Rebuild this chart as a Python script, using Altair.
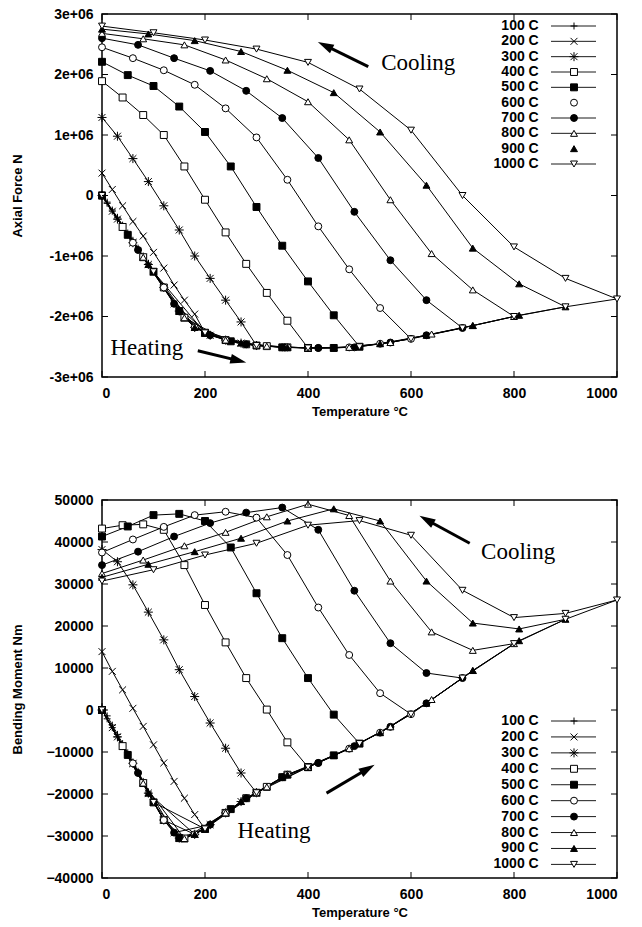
import altair as alt
import pandas as pd

SERIES = ["100 C", "200 C", "300 C", "400 C", "500 C", "600 C", "700 C", "800 C", "900 C", "1000 C"]
T_MAX = [100, 200, 300, 400, 500, 600, 700, 800, 900, 1000]
STEP = [0, 1, 2, 3, 4, 5, 6, 7, 8, 9, 10]   # sample k at T = T_MAX * k / 10

# Axial force, units of 1e6 N; heating branch (T ascending)
AF_HEAT = [
    [0, -0.13, -0.26, -0.39, -0.52, -0.65, -0.78, -0.90, -1.02, -1.14, -1.26],
    [0, -0.26, -0.52, -0.78, -1.02, -1.26, -1.52, -1.79, -2.02, -2.18, -2.27],
    [0, -0.39, -0.78, -1.14, -1.52, -1.91, -2.18, -2.31, -2.39, -2.44, -2.48],
    [0, -0.52, -1.02, -1.52, -2.02, -2.27, -2.39, -2.46, -2.49, -2.51, -2.52],
    [0, -0.65, -1.26, -1.91, -2.27, -2.41, -2.48, -2.51, -2.52, -2.52, -2.50],
    [0, -0.78, -1.52, -2.18, -2.39, -2.48, -2.51, -2.52, -2.51, -2.45, -2.37],
    [0, -0.90, -1.79, -2.31, -2.46, -2.51, -2.52, -2.51, -2.43, -2.31, -2.19],
    [0, -1.02, -2.02, -2.39, -2.49, -2.52, -2.51, -2.43, -2.29, -2.15, -2.00],
    [0, -1.14, -2.18, -2.44, -2.51, -2.52, -2.45, -2.31, -2.15, -1.98, -1.84],
    [0, -1.26, -2.27, -2.48, -2.52, -2.50, -2.37, -2.19, -2.00, -1.84, -1.71],
]
# Axial force, cooling branch (values at the same T samples)
AF_COOL = [
    [0.02, -0.11, -0.24, -0.36, -0.49, -0.62, -0.74, -0.87, -1.00, -1.12, -1.26],
    [0.37, 0.10, -0.17, -0.43, -0.67, -0.94, -1.20, -1.48, -1.73, -1.96, -2.27],
    [1.29, 0.98, 0.61, 0.23, -0.17, -0.57, -1.00, -1.37, -1.73, -2.09, -2.48],
    [1.89, 1.62, 1.33, 1.00, 0.48, -0.07, -0.61, -1.13, -1.61, -2.07, -2.52],
    [2.21, 1.99, 1.81, 1.47, 1.05, 0.48, -0.19, -0.83, -1.42, -1.98, -2.50],
    [2.45, 2.27, 2.07, 1.83, 1.44, 0.96, 0.26, -0.51, -1.22, -1.86, -2.37],
    [2.60, 2.49, 2.27, 2.06, 1.73, 1.28, 0.62, -0.27, -1.07, -1.73, -2.19],
    [2.68, 2.59, 2.49, 2.24, 1.93, 1.55, 0.92, -0.07, -0.96, -1.56, -2.00],
    [2.75, 2.67, 2.56, 2.38, 2.07, 1.70, 1.05, 0.17, -0.87, -1.46, -1.84],
    [2.80, 2.69, 2.57, 2.42, 2.20, 1.76, 1.08, 0.00, -0.85, -1.37, -1.71],
]
# Bending moment, units of 1000 Nm; heating branch
BM_HEAT = [
    [0, -2.1, -4.2, -6.4, -8.6, -10.7, -12.7, -15.0, -17.4, -19.8, -22.0],
    [0, -4.2, -8.6, -12.7, -17.4, -22.0, -26.2, -29.2, -30.6, -29.6, -28.3],
    [0, -6.4, -12.7, -19.8, -26.2, -30.5, -29.6, -27.3, -24.5, -21.8, -19.7],
    [0, -8.6, -17.4, -26.2, -30.6, -28.3, -24.5, -21.0, -18.3, -15.4, -13.6],
    [0, -10.7, -22.0, -30.5, -28.3, -23.6, -19.7, -16.0, -13.6, -10.8, -8.0],
    [0, -12.7, -26.2, -29.6, -24.5, -19.7, -15.4, -12.6, -9.2, -5.4, -1.0],
    [0, -15.0, -29.2, -27.3, -21.0, -16.0, -12.6, -8.6, -4.0, 1.6, 7.6],
    [0, -17.4, -30.6, -24.5, -18.3, -13.6, -9.2, -4.0, 2.5, 9.4, 15.8],
    [0, -19.8, -29.6, -21.8, -15.4, -10.8, -5.4, 1.6, 9.4, 16.5, 21.6],
    [0, -22.0, -28.3, -19.7, -13.6, -8.0, -1.0, 7.6, 15.8, 21.6, 26.2],
]
# Bending moment, cooling branch
BM_COOL = [
    [0.8, -1.4, -3.6, -5.8, -8.0, -10.2, -12.4, -14.6, -17.0, -19.5, -22.0],
    [13.9, 9.2, 4.8, 0.4, -3.9, -8.3, -12.6, -17.0, -21.0, -24.9, -28.3],
    [38.2, 35.3, 29.8, 23.3, 16.7, 9.6, 3.2, -3.1, -9.1, -15.0, -19.7],
    [43.2, 44.0, 44.2, 42.9, 34.5, 25.0, 16.1, 7.6, 0.1, -7.7, -13.6],
    [41.3, 43.7, 46.4, 46.7, 45.0, 38.7, 27.8, 17.1, 7.6, -1.1, -8.0],
    [37.5, 40.6, 43.6, 46.4, 47.2, 45.8, 36.9, 24.4, 13.1, 4.0, -1.0],
    [34.5, 37.7, 41.3, 44.5, 47.0, 48.2, 42.9, 28.4, 15.9, 8.8, 7.6],
    [32.5, 35.7, 39.1, 42.3, 46.0, 49.0, 46.3, 30.7, 18.6, 14.2, 15.8],
    [31.6, 34.7, 37.7, 40.9, 45.0, 47.9, 45.0, 30.7, 20.7, 19.3, 21.6],
    [30.7, 33.4, 36.9, 39.7, 44.0, 45.1, 41.6, 28.5, 22.0, 23.0, 26.2],
]

X_TICKS = [0, 200, 400, 600, 800, 1000]
AF_TICKS = [-3, -2, -1, 0, 1, 2, 3]
BM_TICKS = [-40, -30, -20, -10, 0, 10, 20, 30, 40, 50]

SHAPES = [
    "M-1,0L1,0M0,-1L0,1",
    "M-1,-1L1,1M-1,1L1,-1",
    "M-1,-1L1,1M-1,1L1,-1M-1.3,0L1.3,0M0,-1.3L0,1.3",
    "square", "square", "circle", "circle", "triangle-up", "triangle-up", "triangle-down",
]
FILLS = ["transparent", "transparent", "transparent", "white", "black",
         "white", "black", "white", "black", "white"]
ARROW_HEAD = "M1,0L-1,-0.6L-1,0.6Z"

# annotations
AF_NOTE_TEXT = ["Cooling", "Heating"]
AF_NOTE_T = [614, 87]
AF_NOTE_V = [2.19, -2.52]
AF_ARROW_T = [517, 186]
AF_ARROW_V = [2.13, -2.565]
AF_HEAD_T = [433, 265]
AF_HEAD_V = [2.48, -2.73]
AF_HEAD_ANGLE = [206.6, 14]

BM_NOTE_TEXT = ["Cooling", "Heating"]
BM_NOTE_T = [808, 334]
BM_NOTE_V = [37.7, -28.9]
BM_ARROW_T = [714, 436]
BM_ARROW_V = [39.7, -19.8]
BM_HEAD_T = [630, 516]
BM_HEAD_V = [45.3, -14.0]
BM_HEAD_ANGLE = [209, 329.6]

W = 515


def make_panel(heat, cool, yticks, label_expr, ytitle, ydom, height,
               note_text, note_t, note_v, arr_t, arr_v, head_t, head_v, head_ang,
               leg_range, no_line):
    rows = []
    for i, s in enumerate(SERIES):
        for k in STEP:
            rows.append({"series": s, "seq": k, "T": T_MAX[i] * k / 10, "v": heat[i][k]})
        for k in STEP[-2::-1]:
            rows.append({"series": s, "seq": 20 - k, "T": T_MAX[i] * k / 10, "v": cool[i][k]})
    df = pd.DataFrame(rows)

    X = alt.X("T:Q", scale=alt.Scale(domain=[0, 1000], nice=False, zero=False),
              axis=alt.Axis(values=X_TICKS, format="d", title="Temperature °C"))
    Y = alt.Y("v:Q", scale=alt.Scale(domain=ydom, nice=False, zero=False),
              axis=alt.Axis(values=yticks, labelExpr=label_expr, title=ytitle))
    shape = alt.Shape("series:N", scale=alt.Scale(domain=SERIES, range=SHAPES), legend=None)
    fill = alt.Fill("series:N", scale=alt.Scale(domain=SERIES, range=FILLS), legend=None)

    lines = alt.Chart(df).mark_line(color="black", strokeWidth=1).encode(
        x=X, y=Y, detail="series:N", order="seq:Q")
    pts = alt.Chart(df).mark_point(filled=True, stroke="black", strokeWidth=1, size=48, opacity=1).encode(
        x=X, y=Y, shape=shape, fill=fill)

    xt = pd.DataFrame({"T": X_TICKS})
    yt = pd.DataFrame({"v": yticks})
    tick_b = alt.Chart(xt).mark_rule(color="black").encode(x=X, y=alt.value(height), y2=alt.value(height - 6))
    tick_t = alt.Chart(xt).mark_rule(color="black").encode(x=X, y=alt.value(0), y2=alt.value(6))
    tick_l = alt.Chart(yt).mark_rule(color="black").encode(y=Y, x=alt.value(0), x2=alt.value(6))
    tick_r = alt.Chart(yt).mark_rule(color="black").encode(y=Y, x=alt.value(W - 6), x2=alt.value(W))

    notes = pd.DataFrame({"T": note_t, "v": note_v, "label": note_text})
    txt = alt.Chart(notes).mark_text(font="Liberation Serif", fontSize=23, color="black").encode(
        x=X, y=Y, text="label:N")
    arr = pd.DataFrame({"T": arr_t, "v": arr_v, "T2": head_t, "v2": head_v})
    shaft = alt.Chart(arr).mark_rule(color="black", strokeWidth=3).encode(x=X, y=Y, x2="T2:Q", y2="v2:Q")
    heads = pd.DataFrame({"T": head_t, "v": head_v, "ang": head_ang})
    head = alt.Chart(heads).mark_point(shape=ARROW_HEAD, filled=True, color="black", size=256, opacity=1).encode(
        x=X, y=Y, angle=alt.Angle("ang:Q", scale=None))

    main = alt.layer(lines, pts, tick_b, tick_t, tick_l, tick_r, txt, shaft, head)

    leg = pd.DataFrame({"series": SERIES})
    leg_line_df = leg[~leg["series"].isin(no_line)]
    LY = alt.Y("series:N", scale=alt.Scale(type="point", domain=SERIES, range=leg_range, padding=0), axis=None)
    ltext = alt.Chart(leg).mark_text(align="right", baseline="middle", font="Liberation Sans",
                                     fontWeight="bold", fontSize=14, color="black").encode(
        y=LY, x=alt.value(436.7), text="series:N")
    lline = alt.Chart(leg_line_df).mark_rule(color="black", strokeWidth=0.9).encode(
        y=LY, x=alt.value(449), x2=alt.value(494))
    lpt = alt.Chart(leg).mark_point(filled=True, stroke="black", strokeWidth=1, size=48, opacity=1).encode(
        y=LY, x=alt.value(472), shape=shape, fill=fill)
    legend = alt.layer(ltext, lline, lpt)

    return alt.layer(main, legend).resolve_scale(y="independent").properties(width=W, height=height)


top = make_panel(AF_HEAT, AF_COOL, AF_TICKS, "datum.value == 0 ? '0' : datum.value + 'e+06'",
                 "Axial Force N", [-3, 3], 363,
                 AF_NOTE_TEXT, AF_NOTE_T, AF_NOTE_V, AF_ARROW_T, AF_ARROW_V,
                 AF_HEAD_T, AF_HEAD_V, AF_HEAD_ANGLE, [12, 150], ["600 C", "900 C"])
bottom = make_panel(BM_HEAT, BM_COOL, BM_TICKS, "format(datum.value * 1000, 'd')",
                    "Bending Moment Nm", [-40, 50], 378,
                    BM_NOTE_TEXT, BM_NOTE_T, BM_NOTE_V, BM_ARROW_T, BM_ARROW_V,
                    BM_HEAD_T, BM_HEAD_V, BM_HEAD_ANGLE, [221, 364.4], [])

chart = alt.vconcat(top, bottom, spacing=73).properties(
    padding={"left": 10, "top": 6, "right": 5, "bottom": 5},
    background="white",
).configure_view(stroke="black", strokeWidth=1.5).configure_axis(
    ticks=False, domain=False, grid=False,
    labelFont="Liberation Sans", labelFontWeight="bold", labelFontSize=14, labelColor="black",
    titleFont="Liberation Sans", titleFontWeight="bold", titleFontSize=13, titleColor="black",
).configure_axisY(labelPadding=9, minExtent=55, maxExtent=55, titlePadding=23
).configure_axisX(labelPadding=9, titlePadding=5)

chart.save("out.html", embed_options={"renderer": "svg", "actions": False})
